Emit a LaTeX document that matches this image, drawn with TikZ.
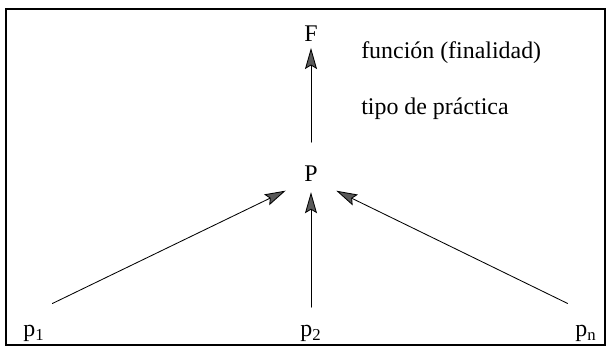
\documentclass[tikz,border=0pt]{standalone}
\usepackage{fontspec}
\setmainfont{Liberation Serif}
\usetikzlibrary{arrows.meta}

\begin{document}
\begin{tikzpicture}[x=0.025cm,y=-0.025cm,line cap=round,
  font=\fontsize{17}{20}\selectfont,
  >={Stealth[length=15pt,width=8.5pt,inset=2.5pt,fill=black!65]},
  arr/.style={->,line width=0.6pt},
  lbl/.style={inner sep=0pt,anchor=base}]
\useasboundingbox (0,0) rectangle (607,347);
\draw[line width=0.8pt] (6,9) rectangle (605,345);
\node[lbl] (F) at (311,42) {F};
\node[lbl] (P) at (311,182) {P};
\node[lbl] (p1) at (34,337) {p\textsubscript{1}};
\node[lbl] (p2) at (311,337) {p\textsubscript{2}};
\node[lbl] (pn) at (586,337) {p\textsubscript{n}};
\node[inner sep=0pt,anchor=base west] (fun) at (361,59) {función (finalidad)};
\node[inner sep=0pt,anchor=base west] (tipo) at (361,115) {tipo de práctica};
\draw[arr,shorten <=17pt,shorten >=4pt] (P.north) -- (F.south);
\draw[arr,shorten <=13pt,shorten >=7pt] (p2.north) -- (P.south);
\draw[arr,shorten <=6pt,shorten >=20pt] ([yshift=13pt]p1.north east) -- ([yshift=-3pt]P.center);
\draw[arr,shorten <=6pt,shorten >=20pt] ([yshift=13pt]pn.north west) -- ([yshift=-3pt]P.center);
\end{tikzpicture}
\end{document}
